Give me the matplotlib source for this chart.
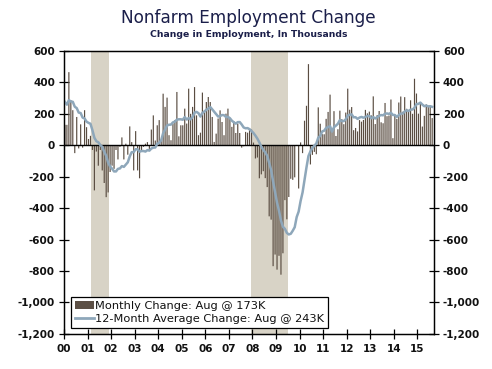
import numpy as np
import pandas as pd
import matplotlib
matplotlib.use("Agg")
import matplotlib.pyplot as plt
from matplotlib.patches import Patch
from matplotlib.lines import Line2D

# ── Data (thousands, monthly change in nonfarm payrolls) ───────────────────────

# Feb-Dec 1999, only used to seed the 12-month average
lead_1999 = [330, 120, 390, 250, 320, 290, 320, 170, 330, 290, 360]

y2000 = [130, 130, 465, 287, 223, -50, 180, -20, 133, -15, 223, 115]
y2001 = [40, 60, -30, -287, -40, -130, -30, -160, -240, -330, -300, -170]
y2002 = [-130, -150, -30, -90, -10, 50, -90, 10, -60, 120, 20, -160]
y2003 = [90, -160, -210, -40, -10, 10, 20, -30, 100, 190, 30, 127]
y2004 = [160, 30, 328, 244, 303, 64, 32, 138, 160, 339, 57, 127]
y2005 = [127, 233, 138, 360, 200, 244, 370, 190, 64, 80, 335, 222]
y2006 = [275, 307, 275, 180, 21, 74, 170, 222, 148, 64, 201, 233]
y2007 = [170, 117, 152, 78, 138, 78, -15, -6, 85, 80, 110, 100]
y2008 = [17, -84, -78, -210, -185, -165, -209, -266, -452, -473, -769, -695]
y2009 = [-791, -703, -823, -687, -349, -471, -329, -213, -220, -204, 2, -275]
y2010 = [18, -50, 156, 251, 516, -122, -61, -42, -57, 241, 137, 71]
y2011 = [70, 168, 212, 322, 102, 217, 59, 102, 220, 166, 134, 208]
y2012 = [360, 226, 243, 96, 110, 88, 160, 150, 161, 225, 203, 214]
y2013 = [190, 311, 135, 192, 218, 146, 140, 269, 185, 189, 291, 45]
y2014 = [187, 168, 272, 310, 213, 306, 232, 218, 286, 200, 423, 329]
y2015 = [201, 266, 119, 187, 260, 245, 245, 173]

recessions = [("2001-03-01", "2001-12-01"), ("2007-12-01", "2009-07-01")]

year_ticks = list(range(2000, 2016))
year_labels = [f"{y % 100:02d}" for y in year_ticks]

y_ticks = list(range(-1200, 601, 200))

# ── Build series ───────────────────────────────────────────────────────────────

monthly = (y2000 + y2001 + y2002 + y2003 + y2004 + y2005 + y2006 + y2007
           + y2008 + y2009 + y2010 + y2011 + y2012 + y2013 + y2014 + y2015)
dates = pd.date_range("2000-01-01", periods=len(monthly), freq="MS")
x = dates.year + (dates.month - 0.5) / 12

full = pd.Series(lead_1999 + monthly)
avg12 = full.rolling(12).mean().iloc[len(lead_1999):].to_numpy()


def to_frac(d):
    t = pd.Timestamp(d)
    return t.year + (t.month - 1) / 12


# ── Plot ───────────────────────────────────────────────────────────────────────

bar_color = "#5a4d42"
line_color = "#8ea7ba"
shade_color = "#d8d3c6"

fig = plt.figure(figsize=(4.92, 3.69), dpi=100)
ax = fig.add_axes([0.130, 0.095, 0.752, 0.767])

for start, end in recessions:
    ax.axvspan(to_frac(start), to_frac(end), color=shade_color, lw=0, zorder=0)

ax.bar(x, monthly, width=0.6 / 12, color=bar_color, lw=0, zorder=2,
       snap=False, antialiased=True)
ax.axhline(0, color="black", lw=1.0, zorder=3)
ax.plot(x, avg12, color=line_color, lw=1.8, zorder=4)

ax.set_xlim(2000, 2015.7)
ax.set_ylim(-1200, 600)
ax.set_xticks(year_ticks)
ax.set_xticklabels(year_labels)
ax.set_yticks(y_ticks)
ax.set_yticklabels([f"{v:,}" for v in y_ticks])

ax2 = ax.twinx()
ax2.set_ylim(-1200, 600)
ax2.set_yticks(y_ticks)
ax2.set_yticklabels([f"{v:,}" for v in y_ticks])

for a in (ax, ax2):
    a.tick_params(axis="both", direction="inout", length=7, width=0.9, pad=3)
    for lab in a.get_xticklabels() + a.get_yticklabels():
        lab.set_fontsize(7.5)
        lab.set_fontweight("bold")
        lab.set_color("#111111")
    for s in a.spines.values():
        s.set_linewidth(0.9)
ax.tick_params(axis="x", pad=4)

fig.text(0.505, 0.927, "Nonfarm Employment Change", ha="center", va="bottom",
         fontsize=12.2, color="#1b1f4a")
fig.text(0.505, 0.893, "Change in Employment, In Thousands", ha="center",
         va="bottom", fontsize=6.7, fontweight="bold", color="#1b1f4a")

handles = [Patch(facecolor="#5c4f45", edgecolor="none"),
           Line2D([0], [0], color=line_color, lw=2)]
labels = ["Monthly Change: Aug @ 173K", "12-Month Average Change: Aug @ 243K"]
leg = ax.legend(handles, labels, loc="lower left", bbox_to_anchor=(0.02, 0.02),
                frameon=True, fancybox=False, fontsize=8.2, handlelength=1.6,
                handletextpad=0.1, borderpad=0.35, labelspacing=0.25,
                borderaxespad=0, framealpha=1)
leg.get_frame().set_edgecolor("black")
leg.get_frame().set_linewidth(0.9)
for t in leg.get_texts():
    t.set_color("#111111")

fig.savefig("out.png", dpi=100)
